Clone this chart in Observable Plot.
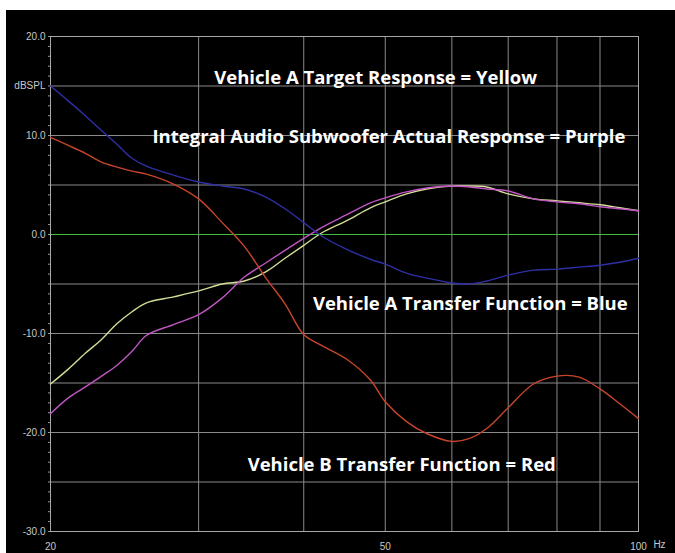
<!DOCTYPE html>
<html><head><meta charset="utf-8">
<script src="https://cdn.jsdelivr.net/npm/d3@7"></script>
<script src="https://cdn.jsdelivr.net/npm/@observablehq/plot@0.6"></script>
<style>html,body{margin:0;padding:0;background:#fff;overflow:hidden}</style>
</head><body><div id="chart"></div>
<script>
// Frequencies (Hz)
const freqs = [20,21,22,23,24,25,26,28,30,32,34,36,38,40,42,45,48,50,53,56,60,63,66,70,75,80,85,90,95,100];
// Vehicle A Target Response (yellow), dB
const targetYellow = [-15.1,-13.6,-12.0,-10.6,-9.0,-7.8,-6.9,-6.3,-5.7,-5.0,-4.7,-3.8,-2.4,-1.1,0.15,1.4,2.7,3.3,4.1,4.6,4.9,4.9,4.8,4.1,3.6,3.4,3.2,3.0,2.7,2.4];
// Integral Audio Subwoofer Actual Response (purple), dB
const actualPurple = [-18.1,-16.5,-15.4,-14.3,-13.2,-11.8,-10.2,-9.1,-8.1,-6.4,-4.3,-2.9,-1.6,-0.4,0.7,2.0,3.2,3.7,4.3,4.7,4.9,4.8,4.6,4.4,3.6,3.3,3.1,2.8,2.6,2.4];
// Vehicle A Transfer Function (blue), dB
const transferBlue = [15.0,13.5,12.0,10.5,9.1,7.7,6.9,6.0,5.3,4.9,4.6,3.8,2.6,1.2,-0.15,-1.5,-2.5,-3.0,-3.9,-4.4,-4.9,-5.0,-4.7,-4.1,-3.6,-3.5,-3.3,-3.1,-2.8,-2.4];
// Vehicle B Transfer Function (red), dB
const transferRed = [9.8,9.0,8.2,7.3,6.8,6.4,6.1,5.1,3.6,1.2,-1.2,-4.3,-7.0,-10.1,-11.2,-12.6,-14.7,-16.9,-18.9,-20.1,-20.9,-20.6,-19.6,-17.5,-15.1,-14.3,-14.4,-15.6,-17.1,-18.6];

const seriesNames = ["Yellow","Purple","Blue","Red"];
const seriesValues = [targetYellow, actualPurple, transferBlue, transferRed];
const seriesColors = ["#d6dc96","#c155c4","#2f2fa6","#c8452c"];

// Axis / grid values
const xGridTicks = [20,30,40,50,60,70,80,90,100];
const xLabelTicks = [20,50,100];
const yGridTicks = [-30,-25,-20,-15,-10,-5,5,10,15,20];
const yLabelTicks = [20,15,10,0,-10,-20,-30];
const yMinorTicks = d3.range(-30,21,1);
const unitY = "dBSPL";
const unitX = "Hz";

// Annotations: text with anchor frequency / level
const annoText = ["Vehicle A Target Response = Yellow","Integral Audio Subwoofer Actual Response = Purple","Vehicle A Transfer Function = Blue","Vehicle B Transfer Function = Red"];
const annoFreq = [48.7, 50.5, 63.1, 52.3];
const annoDb = [15.8, 9.8, -7.0, -23.3];

const rows = [];
seriesNames.forEach((s, i) => freqs.forEach((f, j) => rows.push({series: s, f, db: seriesValues[i][j]})));
const annos = annoText.map((t, i) => ({t, f: annoFreq[i], db: annoDb[i]}));

const lineMarks = seriesNames.map((s, i) =>
  Plot.line(rows.filter(r => r.series === s), {x: "f", y: "db", stroke: seriesColors[i], strokeWidth: 1.4, curve: "catmull-rom"}));

const chart = Plot.plot({
  width: 669, height: 543,
  marginLeft: 44, marginRight: 37, marginTop: 26, marginBottom: 22,
  style: {background: "#000", display: "block", marginLeft: "6px", marginTop: "10px", fontFamily: "'Liberation Sans', Arial, sans-serif"},
  x: {type: "log", domain: [20, 100]},
  y: {domain: [-30, 20]},
  marks: [
    Plot.ruleX(xGridTicks, {stroke: "#8a8a8a", strokeWidth: 1}),
    Plot.ruleY(yGridTicks, {stroke: "#8a8a8a", strokeWidth: 1}),
    Plot.ruleY([0], {stroke: "#3fbf3f", strokeWidth: 1.2}),
    Plot.frame({stroke: "#a8a8a8"}),
    Plot.axisY({ticks: yMinorTicks, tickSize: 2, tickFormat: () => "", stroke: "#999", label: null}),
    Plot.axisY({ticks: yLabelTicks, tickSize: 0, tickPadding: 5, tickFormat: d => d === 15 ? unitY : d.toFixed(1), fill: "#c8c8c8", fontSize: 10, label: null}),
    Plot.axisX({ticks: xLabelTicks, tickSize: 0, tickPadding: 11, tickFormat: d => String(d), fill: "#c8c8c8", fontSize: 10, label: null}),
    Plot.text([unitX], {x: () => 100, frameAnchor: "bottom", dx: 21, dy: 16, fill: "#c8c8c8", fontSize: 10}),
    ...lineMarks,
    Plot.text(annos, {x: "f", y: "db", text: "t", fill: "#fff", fontSize: 18.5, fontWeight: "bold", fontFamily: "'Open Sans', sans-serif"})
  ]
});
document.getElementById("chart").appendChild(chart);
</script>
</body></html>
